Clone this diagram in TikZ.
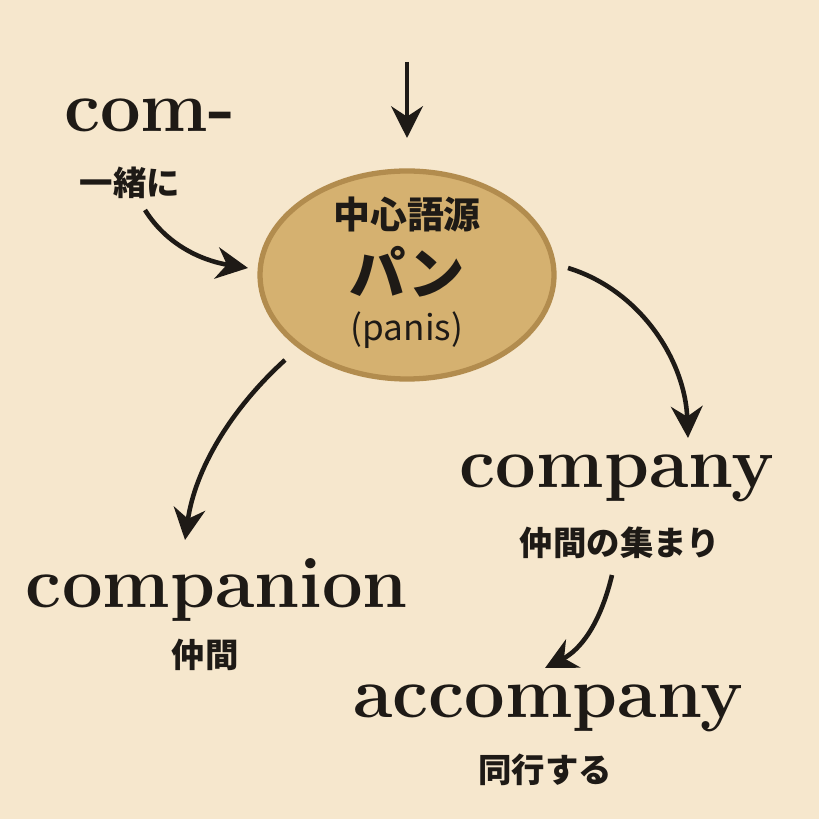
\documentclass[tikz,border=0pt]{standalone}
\usepackage{fontspec}
\newfontfamily\jp{Noto Sans CJK JP}
\usetikzlibrary{arrows.meta}
\definecolor{paper}{HTML}{F6E7CD}
\definecolor{bread}{HTML}{D5B170}
\definecolor{crust}{HTML}{B28C4E}
\definecolor{ink}{HTML}{1E1A16}
\tikzset{
  word/.style={text=ink, font=\fontsize{20.5}{24}\selectfont\bfseries},
  gloss/.style={text=ink, font=\jp\fontsize{9.5}{11}\selectfont\bfseries},
  flow/.style={ink, line width=1.3pt, -{Stealth[length=9pt,width=9pt]}}
}
\begin{document}
\begin{tikzpicture}[x=0.01cm,y=-0.01cm]
        \fill[paper] (0,0) rectangle (819,819);
        \useasboundingbox (0,0) rectangle (819,819);

        \draw[crust, line width=1.5pt, fill=bread] (407,275) ellipse [x radius=147, y radius=104];
        \node[text=ink, font=\jp\fontsize{10.5}{12}\selectfont\bfseries] (root) at (407,215) {中心語源};
        \node[text=ink, font=\jp\fontsize{16}{18}\selectfont\bfseries] (pan) at (407,272) {パン};
        \node[text=ink, font=\jp\fontsize{10}{12}\selectfont] (panis) at (407,330) {(panis)};

        \node[word] (com) at (150,115) {com-};
        \node[gloss] (comg) at (130,183) {一緒に};
        \node[word] (company) at (617,478) {company};
        \node[gloss] (companyg) at (620,543) {仲間の集まり};
        \node[word] (companion) at (217,590) {companion};
        \node[gloss] (companiong) at (205,655) {仲間};
        \node[word] (accompany) at (548,708) {accompany};
        \node[gloss] (accompanyg) at (545,770) {同行する};

        \coordinate (top) at (407,62);
        \coordinate (inTop) at (407,138);
        \coordinate (inLeft) at (248,268);
        \coordinate (outRight) at (568,268);
        \coordinate (outLeft) at (285,360);
        \coordinate (toCompany) at (688,438);
        \coordinate (toCompanion) at (185,540);
        \coordinate (fromCompany) at (612,575);
        \coordinate (toAccompany) at (545,668);

        \draw[flow] (top) -- (inTop);
        \draw[flow] (145,210) .. controls (170,250) and (210,262) .. (inLeft);
        \draw[flow] (outRight) .. controls (640,290) and (685,360) .. (toCompany);
        \draw[flow] (outLeft) .. controls (230,410) and (195,470) .. (toCompanion);
        \draw[flow] (fromCompany) .. controls (600,625) and (580,650) .. (toAccompany);
    \end{tikzpicture}
\end{document}
